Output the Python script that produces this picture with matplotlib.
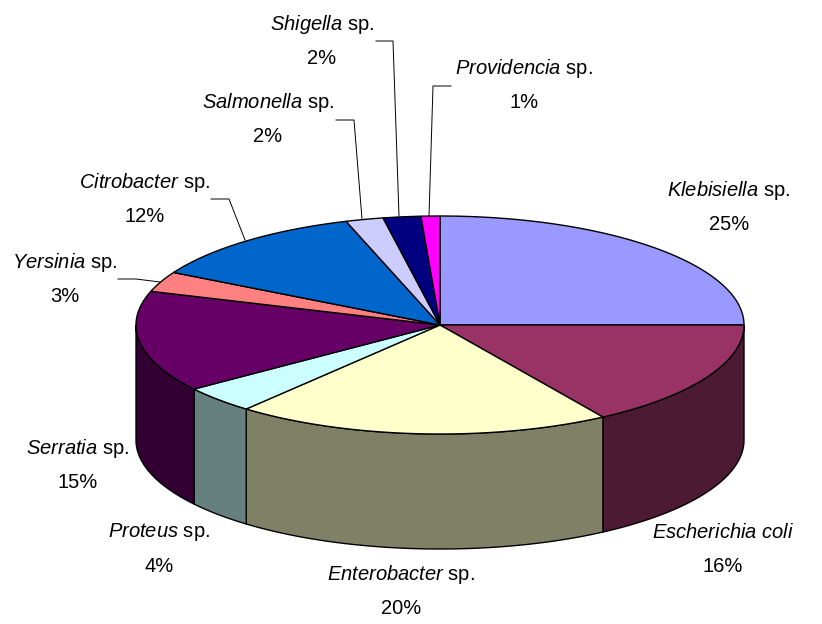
import numpy as np
import matplotlib
matplotlib.use("Agg")
import matplotlib.pyplot as plt
from matplotlib.patches import Polygon

FONT = "Liberation Sans"
plt.rcParams['font.family'] = [FONT, 'DejaVu Sans']
plt.rcParams['mathtext.fontset'] = 'custom'
plt.rcParams['mathtext.it'] = FONT + ':italic'
plt.rcParams['mathtext.rm'] = FONT

genus = ["Klebisiella", "Escherichia coli", "Enterobacter", "Proteus", "Serratia",
         "Yersinia", "Citrobacter", "Salmonella", "Shigella", "Providencia"]
suffix = [" sp.", "", " sp.", " sp.", " sp.", " sp.", " sp.", " sp.", " sp.", " sp."]
values = [25, 16, 20, 4, 15, 3, 12, 2, 2, 1]
top_colors = ["#9999ff", "#993366", "#ffffcc", "#ccffff", "#660066",
              "#ff8080", "#0066cc", "#ccccff", "#000080", "#ff00ff"]
side_colors = ["#4d4d80", "#4d1a33", "#808066", "#668080", "#330033",
               "#804040", "#003366", "#666680", "#000040", "#800080"]
label_pos = [(729, 208), (723, 549), (401, 592), (159, 549), (78, 465),
             (65, 279), (145, 199), (268, 119), (322, 41), (524, 85)]
leaders = [None, None, None, None, None,
           [(118, 279), (136, 279), (160, 282)],
           [(211, 199), (229, 199), (245, 240)],
           [(336, 120), (354, 120), (362, 219)],
           [(376, 41), (393, 41), (399, 216)],
           [(451, 86), (433, 86), (429, 216)]]

CX, CY = 440, 325
RX, RY = 304, 109
DEPTH = 115


def ell(deg):
    a = np.radians(deg)
    return CX + RX * np.sin(a), CY - RY * np.cos(a)


fig = plt.figure(figsize=(8.22, 6.24), dpi=100)
ax = fig.add_axes([0, 0, 1, 1])
ax.set_xlim(0, 822)
ax.set_ylim(624, 0)
ax.axis("off")

edges = np.cumsum([0] + values) * 3.6

# side walls, only the part facing front (90..270 deg)
for i in range(len(values)):
    a0, a1 = max(edges[i], 90), min(edges[i + 1], 270)
    if a1 <= a0:
        continue
    t = np.linspace(a0, a1, 80)
    x, y = ell(t)
    pts = np.r_[np.c_[x, y], np.c_[x[::-1], y[::-1] + DEPTH]]
    ax.add_patch(Polygon(pts, fc=side_colors[i], ec="black", lw=1.0, zorder=2))

# top faces
for i in range(len(values)):
    t = np.linspace(edges[i], edges[i + 1], 100)
    x, y = ell(t)
    pts = np.r_[[(CX, CY)], np.c_[x, y]]
    ax.add_patch(Polygon(pts, fc=top_colors[i], ec="black", lw=1.0, zorder=3))

for line in leaders:
    if line:
        ax.plot(*zip(*line), color="black", lw=0.7, zorder=4)

for g, s, v, (lx, ly) in zip(genus, suffix, values, label_pos):
    name = r"$\mathit{" + g.replace(" ", r"\ ") + "}$" + s
    ax.text(lx, ly - 17, name, ha="center", va="center", fontsize=14.5)
    ax.text(lx, ly + 17, f"{v}%", ha="center", va="center", fontsize=14.5)

fig.savefig("out.png", dpi=100)
